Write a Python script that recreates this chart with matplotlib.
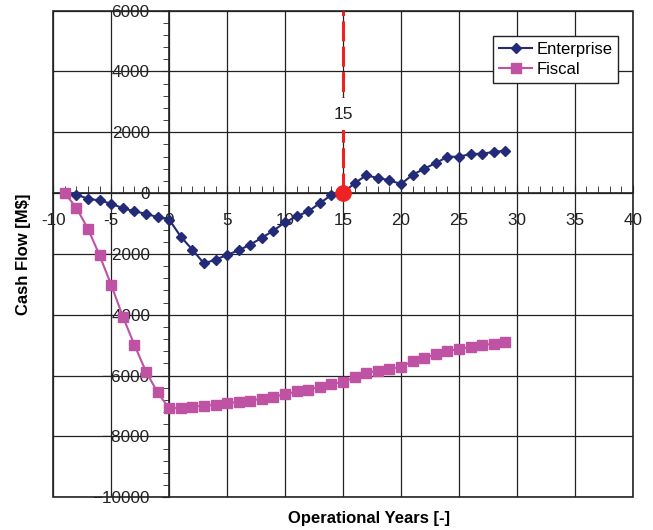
""" Cash flow of enterprise and fiscal over operational years. """

import numpy as np
import matplotlib
matplotlib.use('Agg')
import matplotlib.pyplot as plt
from matplotlib.ticker import MultipleLocator


### DATA ###

years = list(range(-9, 30))

# Enterprise cash flow (M$)
enterprise = [0, -50, -185, -240, -350, -495, -600, -680, -790, -870,
    -1430, -1860, -2310, -2190, -2030, -1880, -1690, -1470, -1230, -960,
    -760, -600, -330, -60, 0, 330, 580, 500, 420, 300,
    600, 800, 990, 1190, 1200, 1280, 1300, 1350, 1400]

# Fiscal cash flow (M$)
fiscal = [0, -490, -1180, -2050, -3020, -4060, -4990, -5870, -6550, -7080,
    -7050, -7020, -6990, -6960, -6900, -6870, -6820, -6760, -6690, -6620,
    -6520, -6460, -6370, -6290, -6200, -6060, -5900, -5850, -5770, -5720,
    -5520, -5420, -5300, -5190, -5130, -5050, -5000, -4950, -4900]

break_even_year = 15

### ###


plt.rcParams['font.family'] = ['Liberation Sans', 'DejaVu Sans']

fig = plt.figure(figsize=(6.53, 5.30), dpi=100, facecolor='white')
ax = fig.add_axes([0.0816, 0.0617, 0.969 - 0.0816, 0.980 - 0.0617])

enterprise_color = '#232a78'
fiscal_color = '#c052a4'
grid_color = '#222222'

ax.plot(years, enterprise, color=enterprise_color, lw=1.5, marker='D', ms=5.5,
    mec=enterprise_color, label='Enterprise', zorder=4)
ax.plot(years, fiscal, color=fiscal_color, lw=1.5, marker='s', ms=6.5,
    mec=fiscal_color, label='Fiscal', zorder=5)

# Break-even marker
ax.plot([break_even_year, break_even_year], [0, 6000], color='#ee2222', lw=2.2,
    dashes=(6.5, 1.8), zorder=3)
ax.plot(break_even_year, 0, 'o', color='#ee2222', ms=11, zorder=6)
ax.text(break_even_year, 2600, str(break_even_year), ha='center', va='center',
    fontsize=12.5, color='#222222', zorder=4,
    bbox=dict(facecolor='white', edgecolor='none', pad=6))

ax.set_xlim(-10, 40)
ax.set_ylim(-10000, 6000)

ax.xaxis.set_major_locator(MultipleLocator(5))
ax.xaxis.set_minor_locator(MultipleLocator(1))
ax.yaxis.set_major_locator(MultipleLocator(2000))
ax.yaxis.set_minor_locator(MultipleLocator(400))

ax.grid(True, which='major', color=grid_color, lw=0.9)
ax.set_axisbelow(True)

# Axes cross at the origin
ax.spines['left'].set_position(('data', 0))
ax.spines['bottom'].set_position(('data', 0))
ax.spines['right'].set_visible(False)
ax.spines['top'].set_visible(False)
for sp in ('left', 'bottom'):
    ax.spines[sp].set_color(grid_color)
    ax.spines[sp].set_linewidth(1.2)

# Outer frame
frame = plt.Rectangle((0, 0), 1, 1, transform=ax.transAxes, fill=False,
    edgecolor=grid_color, lw=1.2, zorder=2, clip_on=False)
ax.add_patch(frame)

ax.tick_params(axis='x', which='both', direction='in', color=grid_color,
    labelsize=12.3, labelcolor='#222222')
ax.tick_params(axis='x', which='major', length=6, pad=14)
ax.tick_params(axis='x', which='minor', length=5)
ax.tick_params(axis='y', which='both', direction='out', color=grid_color,
    labelsize=12.3, labelcolor='#222222')
ax.tick_params(axis='y', which='major', length=5, pad=9)
ax.tick_params(axis='y', which='minor', length=4)

ax.set_xticks(np.arange(-10, 45, 5))
ax.set_xticklabels([str(v) for v in range(-10, 45, 5)])

ax.set_xlabel('Operational Years [-]', fontsize=12, fontweight='bold')
ax.set_ylabel('Cash Flow [M$]', fontsize=12, fontweight='bold')
ax.xaxis.set_label_coords(0.545, -0.028)
ax.yaxis.set_label_coords(-0.0385, 0.5)

leg = ax.legend(loc='upper right', bbox_to_anchor=(618.3/653, 1 - 36/530),
    bbox_transform=fig.transFigure, borderaxespad=0, fancybox=False,
    edgecolor='#222222', framealpha=1, fontsize=12, handlelength=2.0,
    handletextpad=0.25, labelspacing=0.3, borderpad=0.35)
leg.get_frame().set_linewidth(1.0)

fig.savefig('out.png', dpi=100, facecolor=fig.get_facecolor())
plt.close()
